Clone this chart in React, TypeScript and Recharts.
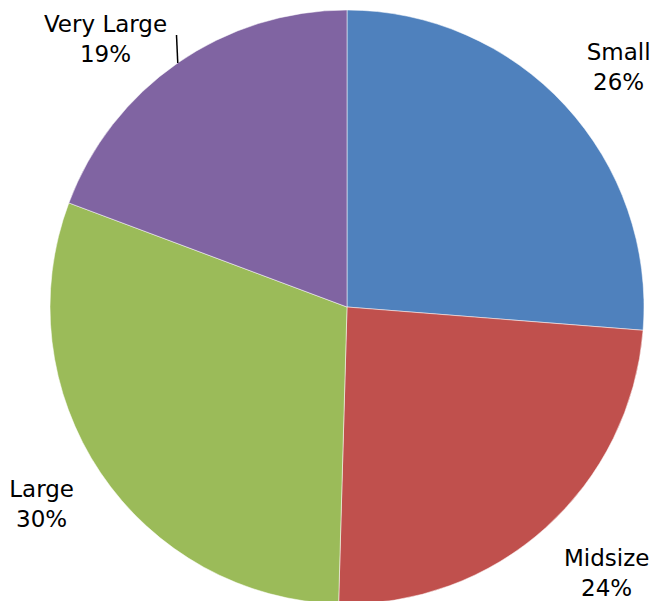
import { PieChart, Pie, Cell } from 'recharts';

const categories = ['Small', 'Midsize', 'Large', 'Very Large'];
const shares = [26.25, 24.2, 30.25, 19.3];
const colors = ['#4F81BD', '#C0504D', '#9BBB59', '#8064A2'];

const data = categories.map((name, i) => ({ name, value: shares[i] }));

const RADIAN = Math.PI / 180;

function renderLabel(props: any) {
  const { cx, cy, midAngle, outerRadius, percent, index } = props;
  const r = outerRadius + 66;
  const a = (midAngle - 1.2) * RADIAN;
  let x = cx + r * Math.cos(-a);
  let y = cy + r * Math.sin(-a);
  let moved = false;
  // keep the label block inside the canvas, sliding it along the label circle
  const minY = 38;
  const maxY = 572;
  if (y < minY || y > maxY) {
    y = y < minY ? minY : maxY;
    const dy = y - cy;
    const rr = r + 8;
    const dx = Math.sqrt(Math.max(rr * rr - dy * dy, 0));
    x = cx + (x < cx ? -dx + 14 : dx);
    moved = true;
  }
  const ex = cx + outerRadius * Math.cos(-midAngle * RADIAN);
  const ey = cy + outerRadius * Math.sin(-midAngle * RADIAN);
  return (
    <g key={`lbl-${index}`}>
      {moved && y === minY && (
        <line x1={ex} y1={ey} x2={x + 71} y2={y - 3} stroke="#000" strokeWidth={1.5} />
      )}
      <text
        x={x}
        y={y}
        textAnchor="middle"
        fontFamily="'DejaVu Sans', Verdana, sans-serif"
        fontSize={23}
        fill="#000"
      >
        <tspan x={x} dy={-6}>{categories[index]}</tspan>
        <tspan x={x} dy={30}>{`${Math.round(percent * 100)}%`}</tspan>
      </text>
    </g>
  );
}

export default function App() {
  return (
    <div style={{ position: 'absolute', left: 0, top: 0, background: '#fff' }}>
      <PieChart width={653} height={601} margin={{ top: 0, right: 0, bottom: 0, left: 0 }}>
        <Pie
          data={data}
          dataKey="value"
          nameKey="name"
          cx={347}
          cy={307}
          outerRadius={297}
          startAngle={90}
          endAngle={-270}
          stroke="#ffffff"
          strokeOpacity={0.5}
          strokeWidth={1}
          label={renderLabel}
          labelLine={false}
          isAnimationActive={false}
        >
          {data.map((d, i) => (
            <Cell key={d.name} fill={colors[i]} />
          ))}
        </Pie>
      </PieChart>
    </div>
  );
}
